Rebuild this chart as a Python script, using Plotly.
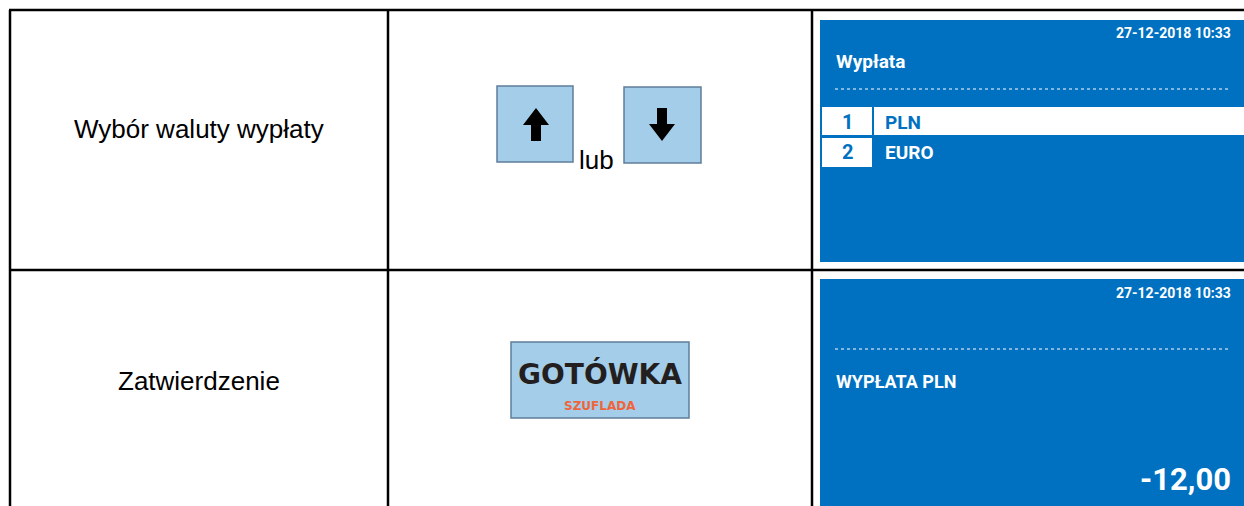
import plotly.graph_objects as go

W, H = 1244, 506

# ---- content (text of the table) ----
steps = ["Wybór waluty wypłaty", "Zatwierdzenie"]
joiner = "lub"
key_main = "GOTÓWKA"
key_sub = "SZUFLADA"
screen_date = ["27-12-2018 10:33", "27-12-2018 10:33"]
screen1_title = "Wypłata"
menu_numbers = ["1", "2"]
menu_items = ["PLN", "EURO"]
screen2_label = "WYPŁATA PLN"
screen2_amount = "-12,00"

BLUE = "#0071C1"
KEY_FILL = "#A3CDE8"
KEY_LINE = "#5F7E99"
DISP = "Roboto, Liberation Sans, sans-serif"
BODY = "Liberation Sans, Arial, sans-serif"

fig = go.Figure()
shapes = []
ann = []

def rect(x0, y0, x1, y1, fill, line=None, lw=0):
    shapes.append(dict(type="rect", x0=x0, y0=y0, x1=x1, y1=y1, fillcolor=fill,
                       line=dict(color=line or fill, width=lw), layer="below"))

def line(x0, y0, x1, y1, color="black", width=2.5, dash=None):
    d = dict(color=color, width=width)
    if dash:
        d["dash"] = dash
    shapes.append(dict(type="line", x0=x0, y0=y0, x1=x1, y1=y1, line=d, layer="above"))

def text(x, y, s, size, color="black", family=BODY, xanchor="center", weight="normal"):
    ann.append(dict(x=x, y=y, text=s, showarrow=False, xanchor=xanchor, yanchor="middle",
                    font=dict(size=size, color=color, family=family, weight=weight)))

# ---- blue screens ----
rect(820, 20, 1250, 262, BLUE)
rect(820, 279, 1250, 510, BLUE)

# screen 1
text(1233, 33, screen_date[0], 14, "white", DISP, "right", "bold")
text(834, 61, screen1_title, 19, "white", DISP, "left", "bold")
line(835, 89, 1229, 89, "white", 1, "dot")
rect(822, 107, 1250, 135, "white")
rect(872, 107, 874, 135, BLUE)
rect(822, 138, 872, 167, "white")
rows_y = [122, 152]
num_colors = [BLUE, BLUE]
item_colors = [BLUE, "white"]
for i in range(len(menu_items)):
    text(847, rows_y[i], menu_numbers[i], 20, num_colors[i], DISP, "center", "bold")
    text(883, rows_y[i], menu_items[i], 19, item_colors[i], DISP, "left", "bold")

# screen 2
text(1233, 293, screen_date[1], 14, "white", DISP, "right", "bold")
line(835, 349, 1229, 349, "white", 1, "dot")
text(834, 381, screen2_label, 18, "white", DISP, "left", "bold")
text(1233, 479, screen2_amount, 31, "white", DISP, "right", "bold")

# ---- keys ----
rect(497, 86, 573, 162, KEY_FILL, KEY_LINE, 1.5)
rect(624, 87, 701, 163, KEY_FILL, KEY_LINE, 1.5)
cx, top, bot = 536, 108, 141
shapes.append(dict(type="path", fillcolor="black", line=dict(color="black", width=0),
    path=f"M {cx} {top} L {cx+13} {top+17} L {cx+5} {top+17} L {cx+5} {bot} "
         f"L {cx-5} {bot} L {cx-5} {top+17} L {cx-13} {top+17} Z"))
cx, top, bot = 662, 108, 141
shapes.append(dict(type="path", fillcolor="black", line=dict(color="black", width=0),
    path=f"M {cx} {bot} L {cx+13} {bot-17} L {cx+5} {bot-17} L {cx+5} {top} "
         f"L {cx-5} {top} L {cx-5} {bot-17} L {cx-13} {bot-17} Z"))
text(596, 160, joiner, 26)

rect(511, 342, 689, 418, KEY_FILL, KEY_LINE, 1.5)
text(600, 374, key_main, 28, "#231F20", "DejaVu Sans, sans-serif", "center", "bold")
text(600, 406, key_sub, 12, "#F0643C", "DejaVu Sans, sans-serif", "center", "bold")

# ---- left column text ----
text(199, 129, steps[0], 26)
text(199, 381, steps[1], 26)

# ---- table grid ----
line(9, 10, 1250, 10)
line(10, 10, 10, 510)
line(388, 10, 388, 510)
line(812, 10, 812, 510)
line(9, 270, 1250, 270)

fig.update_layout(
    width=W, height=H, margin=dict(l=0, r=0, t=0, b=0),
    paper_bgcolor="white", plot_bgcolor="white",
    xaxis=dict(range=[0, W], visible=False, fixedrange=True),
    yaxis=dict(range=[H, 0], visible=False, fixedrange=True),
    shapes=shapes, annotations=ann, showlegend=False,
)
fig.write_html("out.html", config={"displayModeBar": False},
               post_script="document.body.style.margin='0';document.body.style.overflow='hidden';")
